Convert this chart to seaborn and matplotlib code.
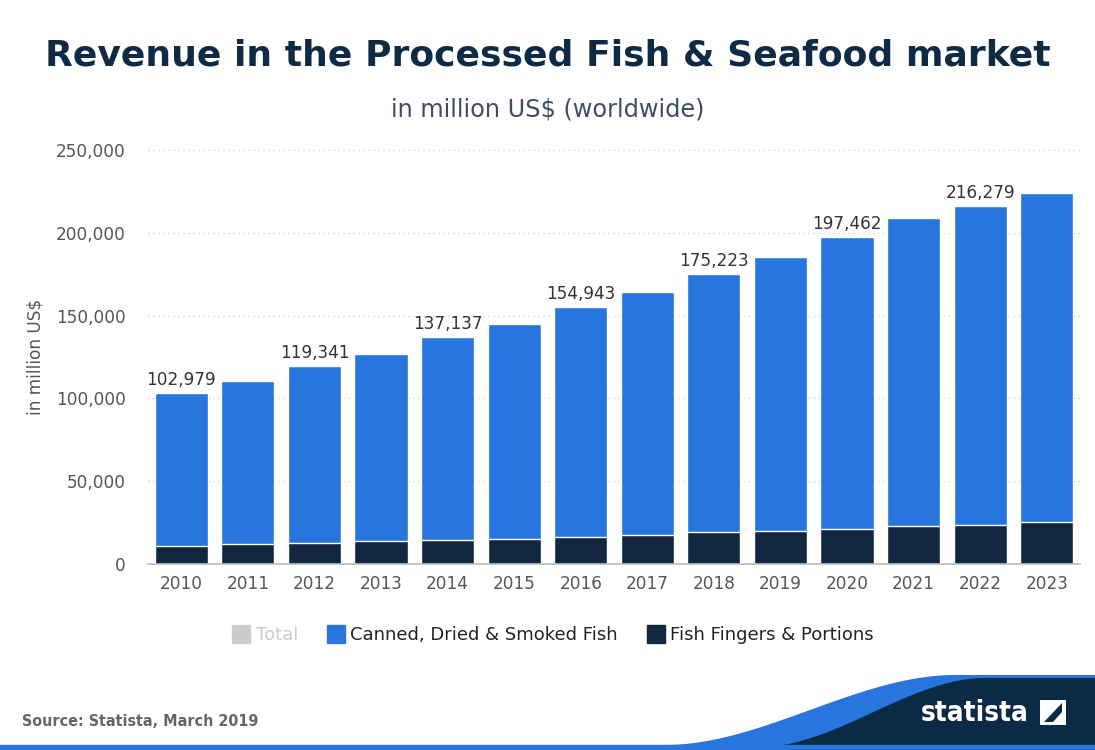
import matplotlib
matplotlib.use("Agg")
import matplotlib.pyplot as plt
import seaborn as sns
import pandas as pd
import numpy as np
from matplotlib.patches import Polygon
from matplotlib.lines import Line2D
from matplotlib.ticker import FuncFormatter

years = ["2010", "2011", "2012", "2013", "2014", "2015", "2016",
         "2017", "2018", "2019", "2020", "2021", "2022", "2023"]
total = [102979, 110500, 119341, 126800, 137137, 144900, 154943,
         164300, 175223, 185400, 197462, 208900, 216279, 224000]
fish_fingers = [11050, 11900, 12900, 13700, 14700, 15300, 16500,
                17300, 19100, 20100, 21000, 22800, 23700, 25500]
labelled_years = ["2010", "2012", "2014", "2016", "2018", "2020", "2022"]

BLUE = "#2876dd"
DARK = "#12273f"
TITLE = "#0f2a45"

sns.set_theme(style="white")
plt.rcParams["font.family"] = ["DejaVu Sans"]

df = pd.DataFrame({"year": years, "total": total, "fingers": fish_fingers})

fig = plt.figure(figsize=(10.95, 7.5), dpi=100)
ax = fig.add_axes([148 / 1095, 1 - 564 / 750, (1080 - 148) / 1095, (564 - 150) / 750])

sns.barplot(data=df, x="year", y="total", color=BLUE, width=0.8,
            edgecolor="white", linewidth=1.0, saturation=1, ax=ax)
sns.barplot(data=df, x="year", y="fingers", color=DARK, width=0.8,
            edgecolor="white", linewidth=1.0, saturation=1, ax=ax)

ax.set_ylim(0, 250000)
ax.set_xlim(-0.5, 13.5)
ax.set_yticks([0, 50000, 100000, 150000, 200000, 250000])
ax.yaxis.set_major_formatter(FuncFormatter(lambda v, p: f"{int(v):,}"))
ax.grid(axis="y", color="#cccccc", linestyle=(0, (1, 3)), linewidth=0.9)
ax.set_axisbelow(True)
for s in ["top", "right", "left"]:
    ax.spines[s].set_visible(False)
ax.spines["bottom"].set_color("#bbbbbb")
ax.spines["bottom"].set_linewidth(1.2)
ax.tick_params(axis="both", length=0, labelsize=12.2, colors="#555555", pad=8)
ax.tick_params(axis="y", pad=16)
ax.set_xlabel("")
ax.set_ylabel("in million US$", fontsize=12.2, color="#555555", labelpad=8)

for i, (y, t) in enumerate(zip(years, total)):
    if y in labelled_years:
        ax.text(i, t + 2500, f"{t:,}", ha="center", va="bottom",
                fontsize=12.2, color="#333333")

fig.text(0.5, 1 - 55 / 750, "Revenue in the Processed Fish & Seafood market",
         ha="center", va="center", fontsize=26, fontweight="bold", color=TITLE)
fig.text(0.5, 1 - 110 / 750, "in million US$ (worldwide)", ha="center",
         va="center", fontsize=17.3, color="#3d4d66")

# legend
handles = [
    Line2D([], [], marker="s", linestyle="", markersize=13, markerfacecolor="#cccccc",
           markeredgecolor="#cccccc"),
    Line2D([], [], marker="s", linestyle="", markersize=13, markerfacecolor=BLUE,
           markeredgecolor=BLUE),
    Line2D([], [], marker="s", linestyle="", markersize=13, markerfacecolor=DARK,
           markeredgecolor=DARK),
]
leg = fig.legend(handles, ["Total", "Canned, Dried & Smoked Fish", "Fish Fingers & Portions"],
                 loc="center", bbox_to_anchor=(553 / 1095, 1 - 635 / 750), ncol=3,
                 frameon=False, fontsize=13, handletextpad=0.3, columnspacing=1.6,
                 handlelength=1.0)
leg.get_texts()[0].set_color("#cccccc")
for t in leg.get_texts()[1:]:
    t.set_color("#222222")

fig.text(22 / 1095, 1 - 722 / 750, "Source: Statista, March 2019", ha="left",
         va="center", fontsize=11.5, fontweight="bold", fontstretch="condensed",
         color="#666666")

# footer wave
fax = fig.add_axes([0, 0, 1, 1], zorder=-1)
fax.set_xlim(0, 1095)
fax.set_ylim(750, 0)
fax.axis("off")
xs = np.linspace(600, 1095, 300)
def wave(x, top, bot, x0, x1):
    t = np.clip((x - x0) / (x1 - x0), 0, 1)
    s = t * t * (3 - 2 * t)
    return bot + (top - bot) * s
blue_top = wave(xs, 675, 745, 665, 955)
dark_top = wave(xs, 678, 747, 760, 985)
fax.add_patch(Polygon(np.column_stack([np.r_[xs, 1095, 0, 0], np.r_[blue_top, 750, 750, 745]]),
                      closed=True, facecolor=BLUE, edgecolor="none"))
fax.add_patch(Polygon(np.column_stack([np.r_[xs, 1095, 600], np.r_[dark_top, 750, 750]]),
                      closed=True, facecolor="#0b2a45", edgecolor="none"))
fax.fill_between([0, 1095], 745, 750, color=BLUE)
fig.text(975 / 1095, 1 - 713 / 750, "statista", ha="center", va="center",
         fontsize=20, fontweight="bold", fontstretch="condensed", color="white")
fax.add_patch(Polygon([[1040, 700], [1066, 700], [1066, 725], [1040, 725]],
                      closed=True, facecolor="white", edgecolor="none"))
fax.add_patch(Polygon([[1044, 722], [1062, 703], [1062, 712], [1053, 722]],
                      closed=True, facecolor="#0b2a45", edgecolor="none"))

fig.savefig("out.png", dpi=100)
